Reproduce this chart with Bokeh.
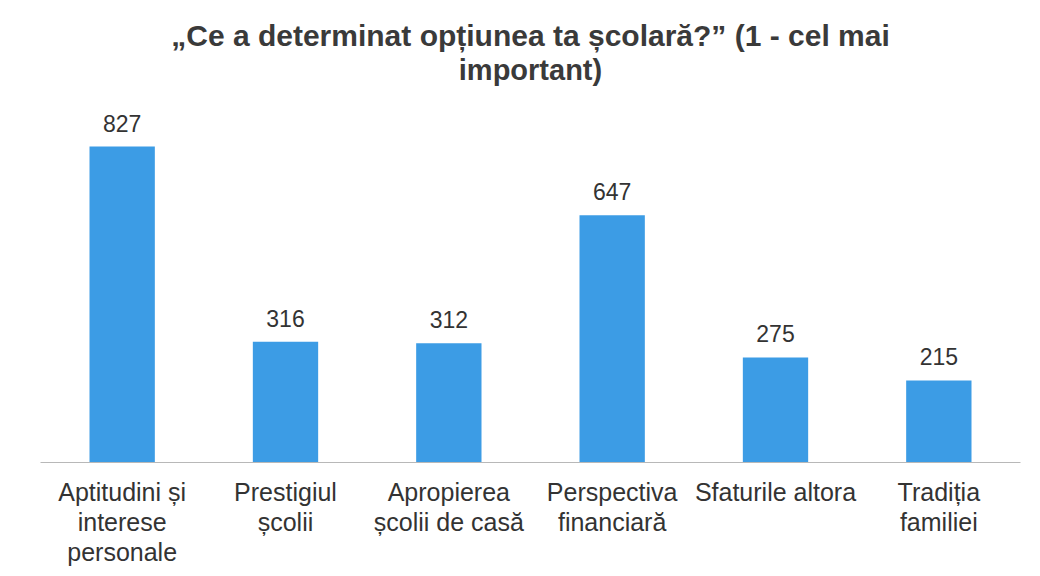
from bokeh.plotting import figure
from bokeh.models import ColumnDataSource, FactorRange, Range1d, Title
from bokeh.core.properties import value
from bokeh.embed import file_html
from bokeh.resources import INLINE

categories = ["Aptitudini și\ninterese\npersonale", "Prestigiul\nșcolii", "Apropierea\nșcolii de casă",
              "Perspectiva\nfinanciară", "Sfaturile altora", "Tradiția\nfamiliei"]
counts = [827, 316, 312, 647, 275, 215]
labels = [str(v) for v in counts]

FONT = "Liberation Sans"
src = ColumnDataSource(dict(cat=categories, val=counts, lab=labels))

p = figure(width=1024, height=568, output_backend="svg", toolbar_location=None,
           x_range=FactorRange(factors=categories, range_padding=0),
           y_range=Range1d(0, 987),
           min_border_left=40, min_border_right=4, min_border_bottom=106, min_border_top=0)

p.add_layout(Title(text="important)", align="center", text_font=FONT, text_font_size="29px",
                   text_font_style="bold", text_color="#3a3a3a", standoff=0), "above")
p.add_layout(Title(text="„Ce a determinat opțiunea ta școlară?” (1 - cel mai", align="center",
                   text_font=FONT, text_font_size="30px", text_font_style="bold",
                   text_color="#3a3a3a", standoff=0), "above")
p.add_layout(Title(text=" ", align="center", text_font=FONT, text_font_size="12px", standoff=0), "above")

p.vbar(x="cat", top="val", width=0.4, source=src, color="#3c9ce5", line_color=None)
p.text(x="cat", y="val", text="lab", source=src, text_align="center", text_baseline="bottom",
       y_offset=-15, text_font=value(FONT), text_font_size="23px", text_color="#333333")

p.yaxis.visible = False
p.xgrid.grid_line_color = None
p.ygrid.grid_line_color = None
p.outline_line_color = None
p.xaxis.axis_line_color = "#b8b8b8"
p.xaxis.axis_line_width = 1
p.xaxis.major_tick_line_color = None
p.xaxis.minor_tick_line_color = None
p.xaxis.major_label_text_font = FONT
p.xaxis.major_label_text_font_size = "25px"
p.xaxis.major_label_text_line_height = 1.08
p.xaxis.major_label_text_color = "#333333"
p.xaxis.major_label_standoff = 9
p.xaxis.major_label_text_align = "center"

open("out.html", "w").write(file_html(p, INLINE))
